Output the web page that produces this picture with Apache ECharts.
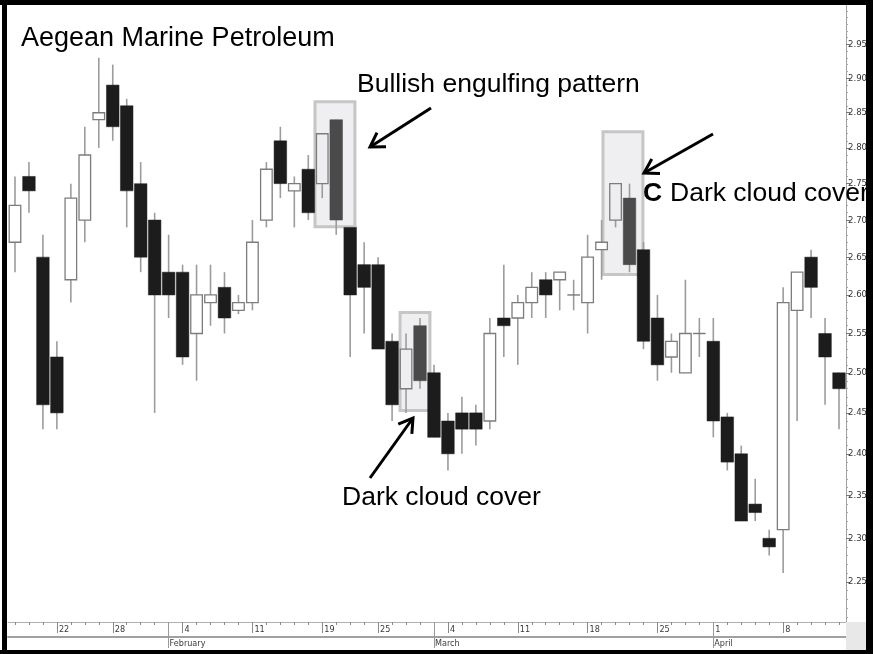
<!DOCTYPE html>
<html><head><meta charset="utf-8">
<script src="https://cdn.jsdelivr.net/npm/echarts@6/dist/echarts.min.js"></script>
<style>html,body{margin:0;padding:0;background:#fff}#c{width:873px;height:654px}</style>
</head><body><div id="c"></div>
<script>
// ---- data (trading days, 2013) ----
const dates = ['2013-01-16','2013-01-17','2013-01-18','2013-01-22','2013-01-23','2013-01-24','2013-01-25','2013-01-28','2013-01-29','2013-01-30',
'2013-01-31','2013-02-01','2013-02-04','2013-02-05','2013-02-06','2013-02-07','2013-02-08','2013-02-11','2013-02-12','2013-02-13',
'2013-02-14','2013-02-15','2013-02-19','2013-02-20','2013-02-21','2013-02-22','2013-02-25','2013-02-26','2013-02-27','2013-02-28',
'2013-03-01','2013-03-04','2013-03-05','2013-03-06','2013-03-07','2013-03-08','2013-03-11','2013-03-12','2013-03-13','2013-03-14',
'2013-03-15','2013-03-18','2013-03-19','2013-03-20','2013-03-21','2013-03-22','2013-03-25','2013-03-26','2013-03-27','2013-03-28',
'2013-04-01','2013-04-02','2013-04-03','2013-04-04','2013-04-05','2013-04-08','2013-04-09','2013-04-10','2013-04-11','2013-04-12'];
const openP  = [2.67,2.76,2.65,2.52,2.62,2.70,2.84,2.89,2.86,2.75, 2.70,2.63,2.63,2.55,2.59,2.61,2.58,2.59,2.70,2.81, 2.74,2.77,2.75,2.84,2.69,2.64,2.64,2.54,2.48,2.56, 2.50,2.44,2.45,2.45,2.44,2.57,2.57,2.59,2.62,2.62, 2.60,2.59,2.66,2.70,2.73,2.66,2.57,2.52,2.50,2.55, 2.54,2.445,2.40,2.34,2.30,2.31,2.58,2.65,2.55,2.50];
const highP  = [2.76,2.78,2.68,2.54,2.75,2.83,2.93,2.92,2.87,2.78, 2.71,2.68,2.64,2.64,2.64,2.63,2.60,2.70,2.78,2.83, 2.76,2.79,2.82,2.84,2.69,2.67,2.65,2.55,2.55,2.57, 2.51,2.45,2.47,2.46,2.57,2.64,2.60,2.63,2.63,2.63, 2.62,2.68,2.70,2.75,2.75,2.67,2.60,2.55,2.62,2.57, 2.57,2.45,2.41,2.37,2.31,2.61,2.63,2.66,2.57,2.50];
const lowP   = [2.63,2.71,2.43,2.43,2.59,2.67,2.80,2.81,2.69,2.63, 2.45,2.57,2.51,2.49,2.56,2.55,2.575,2.58,2.69,2.73, 2.69,2.70,2.73,2.68,2.52,2.55,2.53,2.44,2.45,2.48, 2.42,2.38,2.40,2.41,2.43,2.52,2.51,2.57,2.57,2.58, 2.58,2.55,2.62,2.69,2.63,2.53,2.49,2.50,2.50,2.52, 2.42,2.38,2.32,2.32,2.28,2.26,2.44,2.57,2.46,2.43];
const closeP = [2.72,2.74,2.46,2.45,2.73,2.79,2.85,2.83,2.74,2.65, 2.60,2.60,2.52,2.60,2.60,2.57,2.59,2.67,2.77,2.75, 2.75,2.71,2.82,2.70,2.60,2.61,2.53,2.46,2.53,2.49, 2.42,2.40,2.43,2.43,2.55,2.56,2.59,2.61,2.60,2.63, 2.60,2.65,2.67,2.75,2.64,2.54,2.51,2.54,2.55,2.55, 2.44,2.39,2.32,2.33,2.29,2.59,2.63,2.61,2.52,2.48];
const weekLabelDates = ['2013-01-22','2013-01-28','2013-02-04','2013-02-11','2013-02-19','2013-02-25','2013-03-04','2013-03-11','2013-03-18','2013-03-25','2013-04-01','2013-04-08'];
const monthStartDates = ['2013-02-01','2013-03-01','2013-04-01'];
const monthNames = ['January','February','March','April','May','June','July','August','September','October','November','December'];
const priceTicks = [2.25,2.30,2.35,2.40,2.45,2.50,2.55,2.60,2.65,2.70,2.75,2.80,2.85,2.90,2.95];
// highlighted patterns: candles + box extent in data units
const highlights = [
  {dates:['2013-02-19','2013-02-20'], x0:21.48, x1:24.34, top:2.866, bottom:2.691},
  {dates:['2013-02-27','2013-02-28'], x0:27.57, x1:29.71, top:2.577, bottom:2.453},
  {dates:['2013-03-20','2013-03-21'], x0:42.10, x1:44.96, top:2.823, bottom:2.627}
];

// ---- build ----
const idxOf = d => dates.indexOf(d);
const weekIdx = weekLabelDates.map(idxOf);
const monthIdx = monthStartDates.map(idxOf);
const allIdx = dates.map((d, i) => i);
const minorTicks = [];
for (let k = 221; k <= 300; k++) minorTicks.push(k / 100);
const hlSet = new Set();
highlights.forEach(h => h.dates.forEach(d => hlSet.add(idxOf(d))));
const candleData = dates.map((d, i) => [i, openP[i], closeP[i], lowP[i], highP[i]]);
const boxData = highlights.map(h => [h.x0, h.x1, h.top, h.bottom]);

const axFont = '"Liberation Sans Narrow","DejaVu Sans Condensed",sans-serif';
const txtFont = '"Liberation Sans",Arial,sans-serif';

function renderCandle(params, api) {
  const i = api.value(0), o = api.value(1), c = api.value(2), l = api.value(3), h = api.value(4);
  const pO = api.coord([i, o]), pC = api.coord([i, c]), pL = api.coord([i, l]), pH = api.coord([i, h]);
  const xl = api.coord([i - 0.45, o])[0], xr = api.coord([i + 0.45, o])[0];
  const x = pO[0];
  const hl = hlSet.has(params.dataIndex);
  const children = [{type:'line', shape:{x1:x, y1:pH[1], x2:x, y2:pL[1]}, style:{stroke:'#9c9c9c', lineWidth:1.6}}];
  const top = Math.min(pO[1], pC[1]), bot = Math.max(pO[1], pC[1]);
  if (c === o) {
    children.push({type:'line', shape:{x1:xl, y1:top, x2:xr, y2:top}, style:{stroke:'#777', lineWidth:1.4}});
  } else if (c > o) {
    children.push({type:'rect', shape:{x:xl + 0.5, y:top, width:xr - xl - 1, height:bot - top}, style:{fill: hl ? '#eeeef0' : '#ffffff', stroke:'#7c7c7c', lineWidth:1.3}});
  } else {
    const col = hl ? '#4a4a4a' : '#1c1c1c';
    children.push({type:'rect', shape:{x:xl, y:top, width:xr - xl, height:bot - top}, style:{fill: col, stroke: col, lineWidth:0.5}});
  }
  return {type:'group', children};
}
function renderBox(params, api) {
  const p1 = api.coord([api.value(0), api.value(2)]);
  const p2 = api.coord([api.value(1), api.value(3)]);
  return {type:'rect', shape:{x:p1[0], y:p1[1], width:p2[0] - p1[0], height:p2[1] - p1[1]}, style:{fill:'#efeff1', stroke:'#c6c6c6', lineWidth:3}};
}
function arrow(tail, tip) {
  const dx = tail[0] - tip[0], dy = tail[1] - tip[1], len = Math.hypot(dx, dy);
  const ux = dx / len, uy = dy / len, L = 16, a = 0.55, ca = Math.cos(a), sa = Math.sin(a);
  const p1 = [tip[0] + L * (ux * ca - uy * sa), tip[1] + L * (ux * sa + uy * ca)];
  const p2 = [tip[0] + L * (ux * ca + uy * sa), tip[1] + L * (-ux * sa + uy * ca)];
  return [
    {type:'line', z:100, shape:{x1:tail[0], y1:tail[1], x2:tip[0], y2:tip[1]}, style:{stroke:'#000', lineWidth:3}},
    {type:'polyline', z:100, shape:{points:[p1, tip, p2]}, style:{stroke:'#000', lineWidth:3, fill:null}}
  ];
}
const xBase = {type:'value', min:-0.5, max:59.5, position:'bottom', gridIndex:0, splitLine:{show:false}, minorTick:{show:false}};
const yBase = {type:'log', logBase:10, min:2.205, max:3.009, position:'right', splitLine:{show:false}, minorTick:{show:false}};

const chart = echarts.init(document.getElementById('c'), null, {renderer:'canvas'});
chart.setOption({
  animation:false,
  backgroundColor:'#ffffff',
  grid:{left:8, right:27, top:5, bottom:32, containLabel:false, outerBoundsMode:'none'},
  xAxis:[
    Object.assign({}, xBase, {axisLine:{show:true, onZero:false, lineStyle:{color:'#b0b0b0', width:1}},
      axisTick:{show:true, customValues:allIdx, length:3, lineStyle:{color:'#8a8a8a', width:1}}, axisLabel:{show:false}}),
    Object.assign({}, xBase, {axisLine:{show:false, onZero:false},
      axisTick:{show:true, customValues:weekIdx, length:11, lineStyle:{color:'#8a8a8a', width:1}},
      axisLabel:{show:true, customValues:weekIdx, margin:3, align:'left', verticalAlign:'top', padding:[0,0,0,2],
        fontSize:9, fontFamily:axFont, color:'#3a3a3a', formatter:v => String(parseInt(dates[Math.round(v)].slice(8), 10))}}),
    Object.assign({}, xBase, {offset:15, axisLine:{show:true, onZero:false, lineStyle:{color:'#a0a0a0', width:2}},
      axisTick:{show:false},
      axisLabel:{show:true, customValues:monthIdx, margin:2, align:'left', verticalAlign:'top', padding:[0,0,0,1],
        fontSize:9, fontFamily:axFont, color:'#3a3a3a', formatter:v => monthNames[parseInt(dates[Math.round(v)].slice(5,7), 10) - 1]}}),
    Object.assign({}, xBase, {axisLine:{show:false, onZero:false},
      axisTick:{show:true, customValues:monthIdx, length:26, lineStyle:{color:'#9a9a9a', width:1}}, axisLabel:{show:false}})
  ],
  yAxis:[
    Object.assign({}, yBase, {axisLine:{show:true, onZero:false, lineStyle:{color:'#a0a0a0', width:1}},
      axisTick:{show:true, customValues:minorTicks, length:2, lineStyle:{color:'#a8a8a8', width:1}}, axisLabel:{show:false}}),
    Object.assign({}, yBase, {axisLine:{show:false, onZero:false},
      axisTick:{show:true, customValues:priceTicks, length:4, lineStyle:{color:'#777', width:1}},
      axisLabel:{show:true, customValues:priceTicks, margin:2, fontSize:9.5, fontFamily:axFont, color:'#333',
        formatter:v => Number(v).toFixed(2)}})
  ],
  series:[
    {type:'custom', name:'highlights', xAxisIndex:0, yAxisIndex:0, z:1, renderItem:renderBox, encode:{x:[0,1], y:[2,3]}, data:boxData, silent:true},
    {type:'custom', name:'ANW', xAxisIndex:0, yAxisIndex:0, z:2, renderItem:renderCandle, encode:{x:0, y:[1,2,3,4]}, data:candleData}
  ],
  graphic:[
    {type:'rect', z:90, shape:{x:846, y:622, width:20, height:28}, style:{fill:'#e8e8e8'}},
    {type:'text', z:100, x:21, y:38.5, style:{text:'Aegean Marine Petroleum', font:'27px ' + txtFont, fill:'#000', verticalAlign:'middle', align:'left'}},
    {type:'text', z:100, x:357, y:85, style:{text:'Bullish engulfing pattern', font:'26.5px ' + txtFont, fill:'#000', verticalAlign:'middle', align:'left'}},
    {type:'text', z:100, x:342, y:498, style:{text:'Dark cloud cover', font:'26.5px ' + txtFont, fill:'#000', verticalAlign:'middle', align:'left'}},
    {type:'text', z:100, x:643, y:194, style:{text:'C', font:'bold 26.5px ' + txtFont, fill:'#000', verticalAlign:'middle', align:'left'}},
    {type:'text', z:100, x:670, y:194, style:{text:'Dark cloud cover', font:'26.5px ' + txtFont, fill:'#000', verticalAlign:'middle', align:'left'}},
    ...arrow([431,108],[370,147]),
    ...arrow([370,478],[413,418]),
    ...arrow([713,134],[644,173]),
    {type:'rect', z:110, shape:{x:0, y:0, width:873, height:5}, style:{fill:'#000'}},
    {type:'rect', z:110, shape:{x:2, y:0, width:5, height:654}, style:{fill:'#000'}},
    {type:'rect', z:110, shape:{x:866, y:0, width:7, height:654}, style:{fill:'#000'}},
    {type:'rect', z:110, shape:{x:0, y:650, width:873, height:4}, style:{fill:'#000'}}
  ]
});
</script></body></html>
